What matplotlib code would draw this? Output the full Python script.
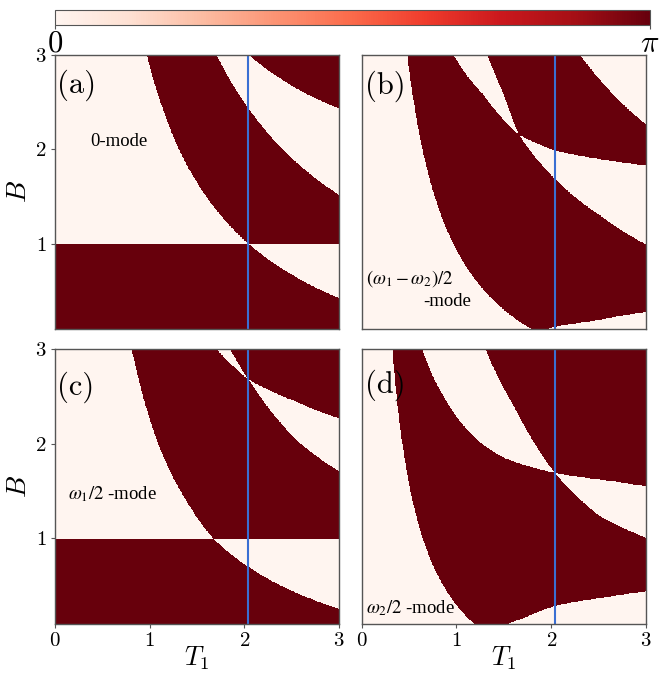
import numpy as np
import matplotlib.pyplot as plt

plt.rcParams['font.family'] = 'serif'
plt.rcParams['font.serif'] = ['cmr10']
plt.rcParams['mathtext.fontset'] = 'cm'
plt.rcParams['axes.formatter.use_mathtext'] = True

# fronteiras de fase: T1 em funcao de B
# painel (a) - modo 0
a_c1_B = [0.1, 0.3, 0.44, 0.7, 1.0, 1.5, 2.0, 2.5, 3.0]
a_c1_T = [4.10, 3.35, 2.97, 2.46, 2.046, 1.60, 1.31, 1.115, 0.968]
a_c2_B = [1.2, 1.5, 2.0, 2.5, 3.0]
a_c2_T = [3.58, 3.03, 2.41, 2.0, 1.708]
a_c3_B = [2.3, 2.436, 2.6, 2.8, 3.0]
a_c3_T = [3.38, 3.0, 2.64, 2.31, 2.05]

# painel (b) - modo (w1-w2)/2
b_d1_B = [0.1, 0.2, 0.4, 0.7, 1.0, 1.5, 2.0, 2.5, 3.0]
b_d1_T = [1.78, 1.625, 1.386, 1.135, 0.961, 0.765, 0.636, 0.544, 0.475]
b_d2_B = [1.7, 1.83, 1.9, 1.99, 2.16, 2.58, 3.0]
b_d2_T = [4.0, 3.0, 2.5, 2.03, 1.65, 1.28, 0.966]
b_d3_B = [0.8, 0.99, 1.3, 1.69, 2.16, 2.6, 3.0]
b_d3_T = [3.5, 3.0, 2.51, 2.03, 1.65, 1.486, 1.32]
b_d4_B = [2.0, 2.26, 2.4, 2.6, 2.8, 3.0]
b_d4_T = [3.36, 3.0, 2.835, 2.631, 2.454, 2.30]
b_d5_B = [0.0, 0.1, 0.12, 0.19, 0.28, 0.4]
b_d5_T = [1.85, 1.95, 2.03, 2.48, 3.0, 3.7]

# painel (c) - modo w1/2
c_e1_B = [0.1, 0.26, 0.45, 0.7, 1.0, 1.45, 2.0, 2.5, 3.0]
c_e1_T = [3.5, 3.0, 2.5, 2.046, 1.673, 1.356, 1.09, 0.93, 0.81]
c_e2_B = [1.5, 1.71, 2.04, 2.68, 3.0]
c_e2_T = [3.3, 3.0, 2.553, 2.046, 1.708]
c_e3_B = [2.1, 2.27, 2.445, 2.68, 3.0]
c_e3_T = [3.5, 3.0, 2.553, 2.046, 1.849]

# painel (d) - modo w2/2
d_f1_B = [0.1, 0.2, 0.4, 0.7, 1.0, 1.5, 2.0, 2.5, 3.0]
d_f1_T = [1.178, 1.077, 0.92, 0.754, 0.639, 0.51, 0.424, 0.363, 0.317]
d_f2_B = [0.8, 1.007, 1.24, 1.695, 1.85, 2.012, 2.5, 3.0]
d_f2_T = [3.4, 3.0, 2.5, 2.03, 1.5, 1.249, 0.86, 0.633]
d_f3_B = [1.5, 1.553, 1.605, 1.695, 2.05, 2.4, 3.0]
d_f3_T = [3.5, 3.0, 2.654, 2.03, 1.79, 1.60, 1.30]
d_f5_B = [0.0, 0.1, 0.16, 0.291, 0.372, 0.443, 0.5]
d_f5_T = [1.3, 1.53, 1.705, 2.032, 2.514, 3.0, 3.5]

b_horizontal = 1.0   # linha B = 1 nos paineis (a) e (c)
t_linha = 2.04       # linha azul vertical

t_grid = np.linspace(0, 3, 700)
b_grid = np.linspace(0.1, 3, 700)


def fase(curvas, linha_h=None):
    T, B = np.meshgrid(t_grid, b_grid)
    n = np.zeros(T.shape, dtype=int)
    for bb, tt in curvas:
        # interpola 1/T para as fronteiras sairem curvas (tipo hiperbole)
        tc = 1.0 / np.interp(B, bb, 1.0 / np.array(tt))
        n += (T > tc).astype(int)
    if linha_h is not None:
        n += (B < linha_h).astype(int)
    return np.pi * (n % 2)


paineis = [
    ([(a_c1_B, a_c1_T), (a_c2_B, a_c2_T), (a_c3_B, a_c3_T)], b_horizontal),
    ([(b_d1_B, b_d1_T), (b_d2_B, b_d2_T), (b_d3_B, b_d3_T),
      (b_d4_B, b_d4_T), (b_d5_B, b_d5_T)], None),
    ([(c_e1_B, c_e1_T), (c_e2_B, c_e2_T), (c_e3_B, c_e3_T)], b_horizontal),
    ([(d_f1_B, d_f1_T), (d_f2_B, d_f2_T), (d_f3_B, d_f3_T),
      (d_f5_B, d_f5_T)], None),
]

posicoes = [
    [0.0828, 0.5119, 0.4277, 0.4065],
    [0.5447, 0.5119, 0.4282, 0.4065],
    [0.0828, 0.0749, 0.4277, 0.4073],
    [0.5447, 0.0749, 0.4282, 0.4073],
]
letras = ['(a)', '(b)', '(c)', '(d)']
pos_letras = [(0.02, 2.68), (0.035, 2.67), (0.02, 2.6), (0.035, 2.62)]

fig = plt.figure(figsize=(6.64, 6.74), dpi=100)
eixos = []
for i, (curvas, lh) in enumerate(paineis):
    ax = fig.add_axes(posicoes[i])
    im = ax.imshow(fase(curvas, lh), extent=[0, 3, 0.1, 3], origin='lower',
                   aspect='auto', cmap='Reds', vmin=0, vmax=np.pi,
                   interpolation='nearest')
    ax.axvline(t_linha, color='#3a6fd3', lw=1.5)
    ax.set_xlim(0, 3)
    ax.set_ylim(0.1, 3)
    ax.set_xticks([0, 1, 2, 3])
    ax.set_yticks([1, 2, 3])
    ax.tick_params(labelsize=15, length=3, color='#555555', pad=3)
    for s in ax.spines.values():
        s.set_color('#555555')
        s.set_linewidth(1.0)
    ax.text(pos_letras[i][0], pos_letras[i][1], letras[i], fontsize=22,
            ha='left', va='center')
    if i in (1, 3):
        ax.tick_params(left=False, labelleft=False)
    else:
        ax.set_ylabel('$B$', fontsize=20, labelpad=2)
    if i in (0, 1):
        ax.tick_params(bottom=False, labelbottom=False)
    else:
        ax.set_xlabel('$T_1$', fontsize=19, labelpad=-4)
    eixos.append(ax)

fonte_txt = dict(family='Liberation Serif', fontsize=13.5, math_fontfamily='stix',
                 ha='left', va='center')
eixos[0].text(0.37, 2.08, '0-mode', **fonte_txt)
eixos[1].text(0.05, 0.63, r'$(\omega_1-\omega_2)/2$', **fonte_txt)
eixos[1].text(0.65, 0.39, '-mode', **fonte_txt)
eixos[2].text(0.14, 1.47, r'$\omega_1/2$ -mode', **fonte_txt)
eixos[3].text(0.045, 0.265, r'$\omega_2/2$ -mode', **fonte_txt)

cax = fig.add_axes([0.0828, 0.9629, 0.896, 0.0223])
cb = fig.colorbar(im, cax=cax, orientation='horizontal', ticks=[0, np.pi])
cb.set_ticklabels(['$0$', r'$\pi$'])
cb.ax.tick_params(labelsize=22, length=3, color='#555555', pad=1)
cb.outline.set_edgecolor('#555555')

fig.savefig('out.png', dpi=100)
